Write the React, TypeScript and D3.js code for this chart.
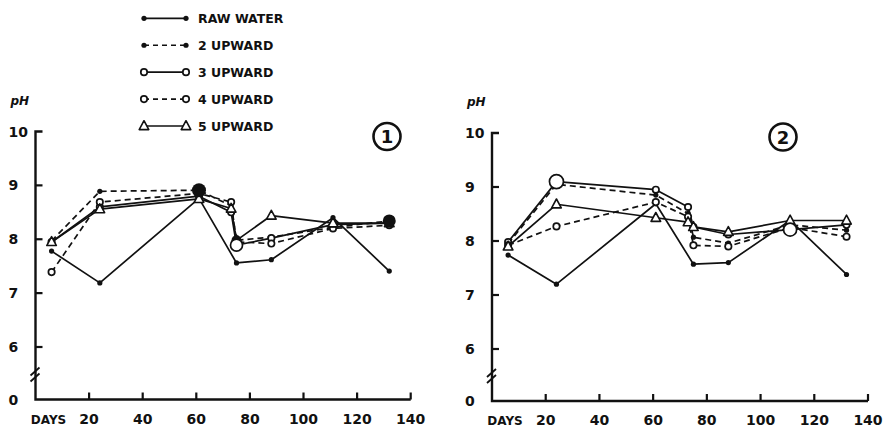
import React from 'react';
import * as d3 from 'd3';

// Sampling days shared by all series
const days = [6, 24, 61, 73, 75, 88, 111, 132];

// Legend / series names
const seriesNames = ['RAW WATER', '2 UPWARD', '3 UPWARD', '4 UPWARD', '5 UPWARD'];

// Column 1 pH values (null = not sampled)
const rawWater1 = [7.78, 7.19, 8.76, null, 7.56, 7.62, 8.40, 7.41];
const upward2_1 = [7.97, 8.89, 8.91, 8.62, 7.98, 8.04, 8.22, 8.34];
const upward3_1 = [7.95, 8.60, 8.80, 8.50, 7.89, 8.02, 8.27, 8.30];
const upward4_1 = [7.39, 8.69, 8.85, 8.69, 7.95, 7.92, 8.20, 8.26];
const upward5_1 = [7.95, 8.56, 8.75, 8.57, 7.98, 8.44, 8.30, 8.30];

// Column 2 pH values
const rawWater2 = [7.74, 7.20, 8.69, null, 7.57, 7.60, 8.38, 7.38];
const upward2_2 = [7.95, 9.05, 8.85, 8.51, 8.07, 7.96, 8.30, 8.20];
const upward3_2 = [7.98, 9.10, 8.95, 8.63, 8.26, 8.12, 8.21, 8.30];
const upward4_2 = [7.92, 8.27, 8.72, 8.45, 7.92, 7.90, 8.25, 8.08];
const upward5_2 = [7.90, 8.68, 8.43, 8.35, 8.26, 8.17, 8.38, 8.38];

// Axis ticks
const dayTicks = [20, 40, 60, 80, 100, 120, 140];
const phTicks = [6, 7, 8, 9, 10];

type Marker = 'dot' | 'circle' | 'tri';
const markerOf: Marker[] = ['dot', 'dot', 'circle', 'circle', 'tri'];
const dashedOf = [false, true, false, true, false];

const panels = [
  {
    label: '1',
    series: [rawWater1, upward2_1, upward3_1, upward4_1, upward5_1],
    x0: 35.5, x1: 410.7, y10: 131.5, y6: 347, base: 399.5,
    badge: [387, 136.5],
    // overlapping points drawn as heavier marks: [series, point index, radius]
    heavy: [[1, 2, 7], [1, 7, 6.5], [1, 4, 5], [2, 4, 6], [4, 6, 5]],
  },
  {
    label: '2',
    series: [rawWater2, upward2_2, upward3_2, upward4_2, upward5_2],
    x0: 492, x1: 868, y10: 133, y6: 349, base: 401,
    badge: [783, 137],
    heavy: [[2, 1, 7], [2, 6, 6.5]],
  },
];

const INK = '#111';
const FONT = '"DejaVu Sans", "Liberation Sans", sans-serif';

function MarkerShape({ type, x, y, r }: { type: Marker; x: number; y: number; r?: number }) {
  if (type === 'dot') {
    return <circle cx={x} cy={y} r={r ?? 2.6} fill={INK} />;
  }
  if (type === 'circle') {
    return <circle cx={x} cy={y} r={r ?? 3.2} fill="#fff" stroke={INK} strokeWidth={1.7} />;
  }
  const h = r ?? 4.8;
  const pts = [[x, y - h * 1.1], [x - h, y + h * 0.75], [x + h, y + h * 0.75]];
  return <polygon points={pts.map((p) => p.join(',')).join(' ')} fill="#fff" stroke={INK} strokeWidth={1.6} strokeLinejoin="round" />;
}

function Panel({ p }: { p: (typeof panels)[number] }) {
  const x = d3.scaleLinear().domain([0, 140]).range([p.x0, p.x1]);
  const y = d3.scaleLinear().domain([6, 10]).range([p.y6, p.y10]);
  const line = d3
    .line<[number, number]>()
    .x((d) => x(d[0]))
    .y((d) => y(d[1]));
  // join the sampled points only, skipping days without a reading
  const pointsOf = (vals: (number | null)[]) =>
    days.map((d, k) => [d, vals[k]]).filter((d) => d[1] != null) as [number, number][];

  return (
    <g>
      {/* axes */}
      <path
        d={`M${p.x0 + 7},${p.y10} H${p.x0} V${p.base} H${p.x1}`}
        fill="none"
        stroke={INK}
        strokeWidth={2.4}
      />
      {phTicks.slice(0, 4).map((t) => (
        <line key={t} x1={p.x0} x2={p.x0 + 7} y1={y(t)} y2={y(t)} stroke={INK} strokeWidth={2.2} />
      ))}
      {dayTicks.map((t) => (
        <line key={t} x1={x(t)} x2={x(t)} y1={p.base} y2={p.base - 7} stroke={INK} strokeWidth={2.2} />
      ))}
      {/* axis break */}
      <line x1={p.x0 - 5} y1={p.base - 24} x2={p.x0 + 4} y2={p.base - 32} stroke={INK} strokeWidth={1.8} />
      <line x1={p.x0 - 5} y1={p.base - 18} x2={p.x0 + 4} y2={p.base - 26} stroke={INK} strokeWidth={1.8} />

      {/* tick labels */}
      {phTicks.map((t) => (
        <text key={t} x={p.x0 - 27} y={y(t) + 5} fontSize={14} fontWeight="bold" fontFamily={FONT} fill={INK}>
          {t}
        </text>
      ))}
      <text x={p.x0 - 27} y={p.base + 5} fontSize={14} fontWeight="bold" fontFamily={FONT} fill={INK}>
        0
      </text>
      <text x={p.x0 - 25} y={p.y10 - 27} fontSize={12} fontWeight="bold" fontStyle="italic" fontFamily={FONT} fill={INK}>
        pH
      </text>
      {dayTicks.map((t) => (
        <text key={t} x={x(t)} y={p.base + 24} textAnchor="middle" fontSize={14} fontWeight="bold" fontFamily={FONT} fill={INK}>
          {t}
        </text>
      ))}
      <text x={p.x0 + 13} y={p.base + 24} textAnchor="middle" fontSize={12} fontWeight="bold" fontFamily={FONT} fill={INK}>
        DAYS
      </text>

      {/* panel number */}
      <circle cx={p.badge[0]} cy={p.badge[1]} r={13.5} fill="none" stroke={INK} strokeWidth={2.6} />
      <text x={p.badge[0]} y={p.badge[1] + 6.5} textAnchor="middle" fontSize={18} fontWeight="bold" fontFamily={FONT} fill={INK}>
        {p.label}
      </text>

      {/* series lines */}
      {p.series.map((vals, i) => (
        <path
          key={i}
          d={line(pointsOf(vals)) ?? ''}
          fill="none"
          stroke={INK}
          strokeWidth={1.7}
          strokeDasharray={dashedOf[i] ? '6,4' : undefined}
          strokeLinejoin="round"
        />
      ))}
      {/* markers */}
      {p.series.map((vals, i) =>
        days.map((d, k) =>
          vals[k] == null ? null : (
            <MarkerShape key={`${i}-${k}`} type={markerOf[i]} x={x(d)} y={y(vals[k] as number)} />
          )
        )
      )}
      {p.heavy.map(([si, k, r]) => {
        const v = p.series[si][k] as number;
        return <MarkerShape key={`h${si}-${k}`} type={markerOf[si]} x={x(days[k])} y={y(v)} r={r} />;
      })}
    </g>
  );
}

function Legend() {
  const rowY = d3.scaleLinear().domain([0, 4]).range([18.3, 126]);
  return (
    <g>
      {seriesNames.map((name, i) => {
        const yy = rowY(i);
        return (
          <g key={name}>
            <line
              x1={144}
              x2={186}
              y1={yy}
              y2={yy}
              stroke={INK}
              strokeWidth={1.7}
              strokeDasharray={dashedOf[i] ? '5,4' : undefined}
            />
            <MarkerShape type={markerOf[i]} x={144} y={yy} />
            <MarkerShape type={markerOf[i]} x={186} y={yy} />
            <text x={198} y={yy + 4.6} fontSize={12.5} fontWeight="bold" fontFamily={FONT} fill={INK}>
              {name}
            </text>
          </g>
        );
      })}
    </g>
  );
}

export default function App() {
  return (
    <svg
      width={885}
      height={430}
      viewBox="0 0 885 430"
      style={{ position: 'absolute', left: 0, top: 0, background: '#fff' }}
    >
      <rect width={885} height={430} fill="#fff" />
      <Legend />
      {panels.map((p) => (
        <Panel key={p.label} p={p} />
      ))}
    </svg>
  );
}
